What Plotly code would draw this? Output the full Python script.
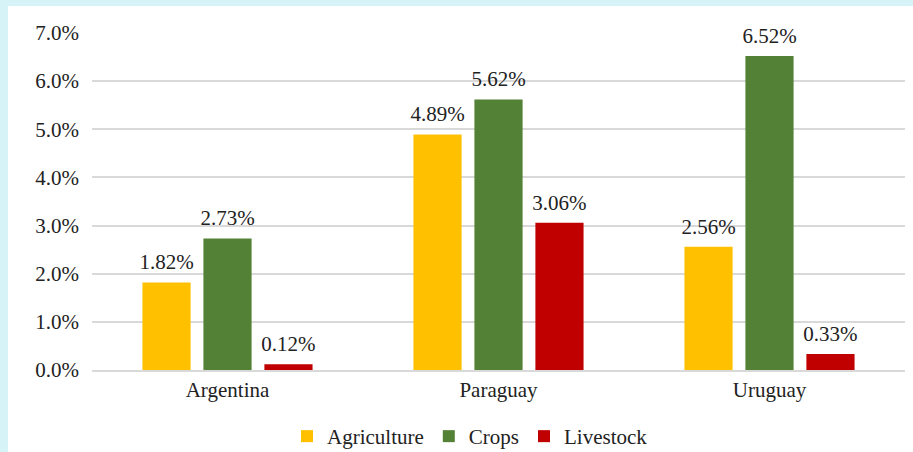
import plotly.graph_objects as go

countries = ["Argentina", "Paraguay", "Uruguay"]
agriculture = [1.82, 4.89, 2.56]
crops = [2.73, 5.62, 6.52]
livestock = [0.12, 3.06, 0.33]
series_names = ["Agriculture", "Crops", "Livestock"]
colors = ["#FFC000", "#538135", "#C00000"]
tick_vals = [0, 1, 2, 3, 4, 5, 6, 7]
tick_text = [f"{v:.1f}%" for v in tick_vals]

W, H = 913, 452
ml, mr, mt, mb = 92, 8, 33, 82
pw, ph = W - ml - mr, H - mt - mb
SERIF = "Liberation Serif, Times New Roman, serif"
FS = 21
GAP = 0.325

fig = go.Figure()
for name, vals, col in zip(series_names, [agriculture, crops, livestock], colors):
    fig.add_trace(go.Bar(
        name=name, x=countries, y=vals, marker=dict(color=col, line=dict(width=0)),
        offsetgroup=name, hoverinfo="x+y",
    ))
for name, vals in zip(series_names, [agriculture, crops, livestock]):
    fig.add_trace(go.Scatter(
        x=countries, y=vals, mode="markers+text", offsetgroup=name,
        marker=dict(size=11, opacity=0), showlegend=False, hoverinfo="skip",
        text=[f"{v:.2f}%" for v in vals], textposition="top center", cliponaxis=False,
        textfont=dict(family=SERIF, size=FS, color="#222222"),
    ))

cyan = "#D6F4F8"
# cyan frame strips (left and top)
fig.add_shape(type="rect", xref="paper", yref="paper", layer="below",
              x0=(0 - ml) / pw, x1=(8 - ml) / pw,
              y0=(mt + ph - H) / ph, y1=(mt + ph) / ph,
              fillcolor=cyan, line=dict(width=0))
fig.add_shape(type="rect", xref="paper", yref="paper", layer="below",
              x0=(0 - ml) / pw, x1=(W - ml) / pw,
              y0=(mt + ph - 6) / ph, y1=(mt + ph) / ph,
              fillcolor=cyan, line=dict(width=0))

fig.update_layout(
    width=W, height=H,
    margin=dict(l=ml, r=mr, t=mt, b=mb, autoexpand=False),
    paper_bgcolor="white", plot_bgcolor="rgba(0,0,0,0)",
    barmode="group", bargap=GAP, bargroupgap=0.21,
    scattermode="group", scattergap=GAP,
    font=dict(family=SERIF, size=FS, color="#222222"),
    showlegend=True,
    legend=dict(orientation="h", x=(470 - ml) / pw, xanchor="center",
                y=(mt + ph - 416) / ph, yanchor="top",
                font=dict(family=SERIF, size=FS), itemwidth=30, tracegroupgap=0,
                bgcolor="rgba(0,0,0,0)"),
    xaxis=dict(showline=True, linecolor="#D9D9D9", linewidth=1.5, ticks="",
               tickfont=dict(family=SERIF, size=FS), showgrid=False, automargin=False),
    yaxis=dict(range=[0, 7], tickvals=tick_vals, ticktext=tick_text,
               showgrid=True, gridcolor="#D9D9D9", gridwidth=1.5, zeroline=False,
               showline=False, tickfont=dict(family=SERIF, size=FS),
               ticklabelstandoff=12, automargin=False),
)

fig.write_html("out.html", config={"displayModeBar": False},
               post_script="document.body.style.margin='0';document.body.style.overflow='hidden';")
